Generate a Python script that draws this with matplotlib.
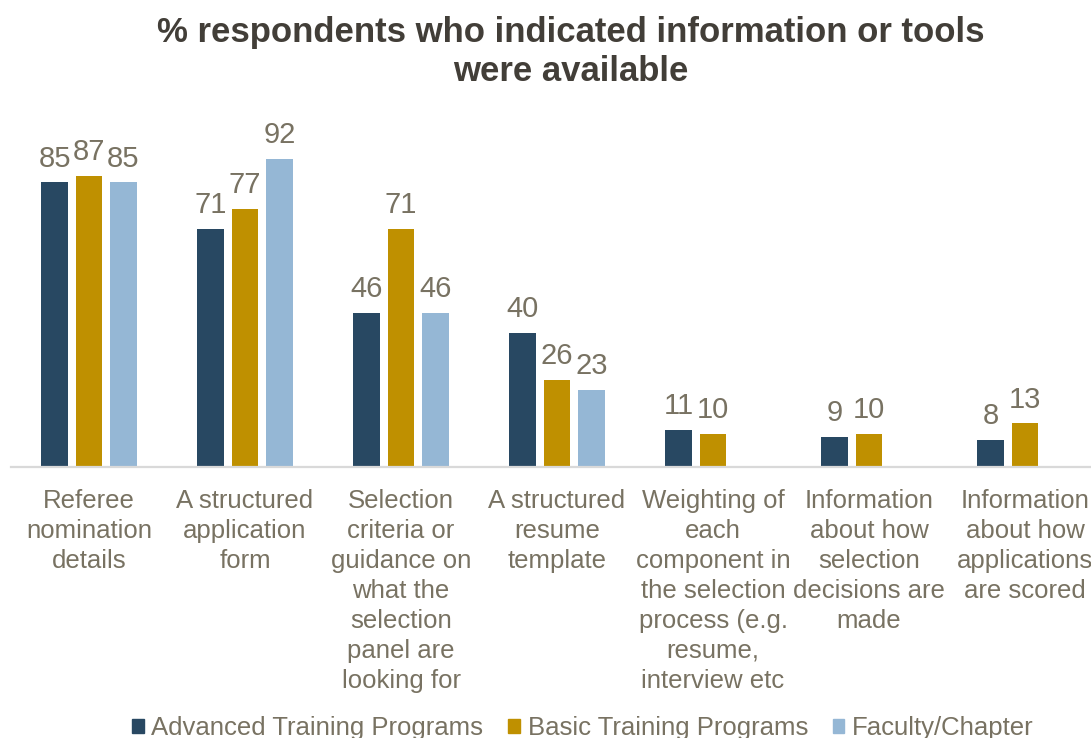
import numpy as np
import matplotlib.pyplot as plt
from matplotlib.patches import Patch

plt.rcParams['font.family'] = ['Liberation Sans', 'DejaVu Sans']

categories = ["Referee\nnomination\ndetails",
              "A structured\napplication\nform",
              "Selection\ncriteria or\nguidance on\nwhat the\nselection\npanel are\nlooking for",
              "A structured\nresume\ntemplate",
              "Weighting of\neach\ncomponent in\nthe selection\nprocess (e.g.\nresume,\ninterview etc",
              "Information\nabout how\nselection\ndecisions are\nmade",
              "Information\nabout how\napplications\nare scored"]

advanced = [85, 71, 46, 40, 11, 9, 8]
basic = [87, 77, 71, 26, 10, 10, 13]
faculty = [85, 92, 46, 23, None, None, None]

series_names = ["Advanced Training Programs", "Basic Training Programs", "Faculty/Chapter"]
colors = ["#284862", "#BF9000", "#95B7D5"]
label_color = "#787262"

fig = plt.figure(figsize=(10.91, 7.38), dpi=100)
ax = fig.add_axes([11/1091, 271/738, 1092/1091, 335/738])

x = np.arange(len(categories))
width = 0.173
step = 0.22

for i, (vals, c) in enumerate(zip([advanced, basic, faculty], colors)):
    h = np.array([np.nan if v is None else v for v in vals], dtype=float)
    bars = ax.bar(x + (i - 1) * step, h, width, color=c, zorder=2)
    labels = ['' if v is None else str(v) for v in vals]
    ax.bar_label(bars, labels=labels, padding=7, fontsize=21, color=label_color)

ax.set_xlim(-0.5, 6.5)
ax.set_ylim(0, 100)
ax.set_xticks(x)
ax.set_xticklabels(categories, fontsize=18.5, color=label_color, linespacing=1.31)
ax.tick_params(axis='x', length=0, pad=16)
ax.set_yticks([])
for s in ['top', 'right', 'left']:
    ax.spines[s].set_visible(False)
ax.spines['bottom'].set_color('#d9d9d9')
ax.spines['bottom'].set_linewidth(1.6)

fig.text(571/1091, 1 - 52/738, "% respondents who indicated information or tools\nwere available",
         ha='center', va='center', fontsize=25, fontweight='bold', color='#423e38',
         linespacing=1.25)

handles = [Patch(color=c) for c in colors]
fig.legend(handles, series_names, loc='center', bbox_to_anchor=(583/1091, 10/738),
           ncol=3, frameon=False, fontsize=18.5, labelcolor=label_color,
           handlelength=0.45, handleheight=0.45, handletextpad=0.3, columnspacing=0.97)

fig.savefig("out.png", dpi=100)
